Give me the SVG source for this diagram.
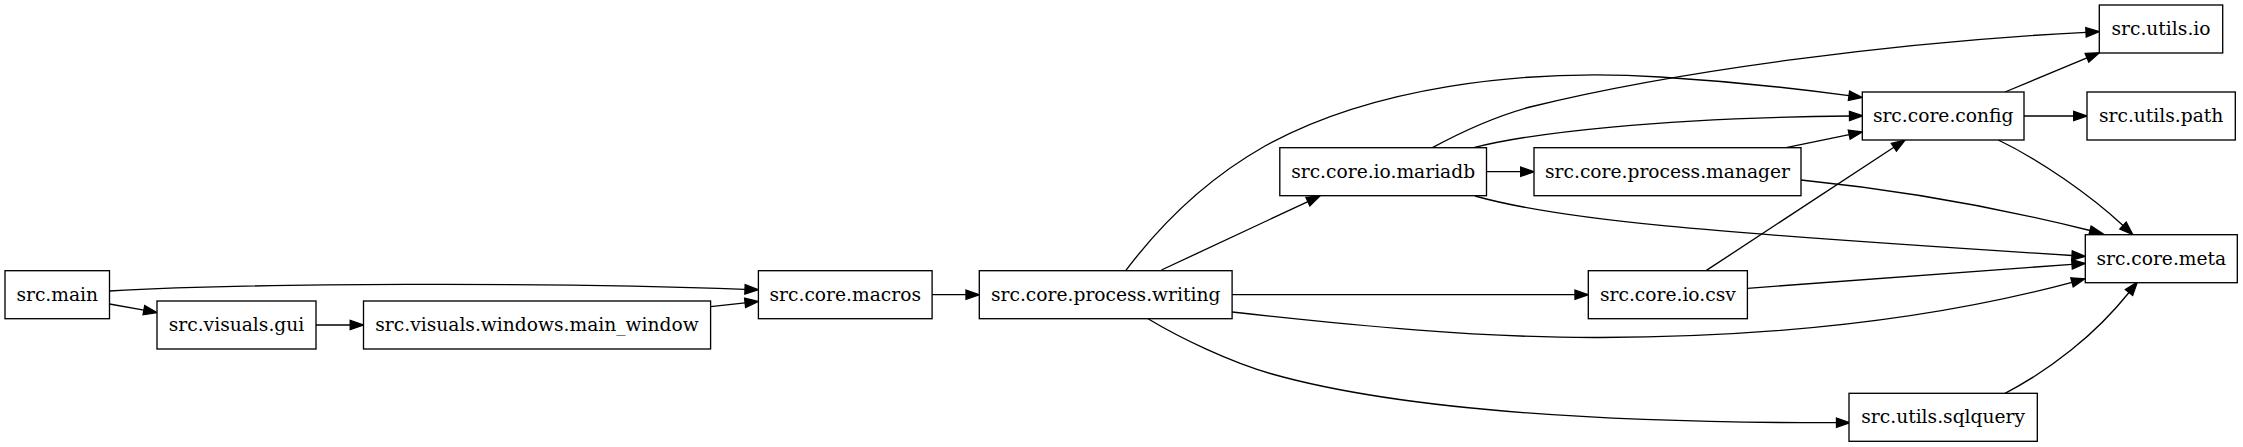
<svg xmlns="http://www.w3.org/2000/svg" width="2243" height="447" viewBox="0 0 2243 447">
<style>
.n rect{fill:#fff;stroke:#000;stroke-width:1.33}
.n text{font-family:"DejaVu Serif","Liberation Serif",serif;font-size:18.67px;text-anchor:middle;fill:#000}
.e path{fill:none;stroke:#000;stroke-width:1.33;marker-end:url(#ah)}
</style>
<defs>
<marker id="ah" markerUnits="userSpaceOnUse" viewBox="0 0 14 10" markerWidth="14" markerHeight="10" refX="0" refY="5" orient="auto" overflow="visible">
<path d="M0,0.33 L13.33,5 L0,9.67 Z" fill="#000" stroke="#000" stroke-width="1.33"/>
</marker>
</defs>
<rect width="2243" height="447" fill="#fff"/>
<g id="connectors" class="e">
<path d="M109.5,291 C250,283 550,282 745,289.3"/>
<path d="M109.5,304 L143.9,310.2"/>
<path d="M316,325 L350.2,325"/>
<path d="M710.6,306.6 L745.1,302.9"/>
<path d="M932.1,294.7 L966,294.7"/>
<path d="M1161.5,270 L1307.9,201.6"/>
<path d="M1125.7,270.7 C1160,225 1205,180 1265,146 C1370,88 1520,68 1660,77 C1740,82 1800,89 1849,95.7"/>
<path d="M1232.1,294.7 L1575,294.7"/>
<path d="M1232.1,312 C1350,325 1480,338 1600,337.5 C1800,337 1950,315 2072,282.3"/>
<path d="M1148,318.7 C1180,338 1230,362 1272,374 C1400,410 1600,423 1836.5,422.7"/>
<path d="M1432.4,147.7 C1465,130 1497,116 1530,107 C1680,70 1900,42 2086,32.3"/>
<path d="M1473.7,147.7 C1530,133 1660,118 1849.5,116"/>
<path d="M1486.5,171.7 L1520.7,171.7"/>
<path d="M1475,196 C1560,220 1700,232 2072,255.5"/>
<path d="M1786,147.7 L1849.2,134.7"/>
<path d="M1801,180 C1900,190 2000,208 2090,230.5"/>
<path d="M1706.4,270.4 L1893.9,147.3"/>
<path d="M1747.4,288.3 L2072,264.3"/>
<path d="M2005,92 L2087,57.8"/>
<path d="M2024,116 L2073.7,116"/>
<path d="M1998.3,140 C2040,160 2090,195 2123,225.5"/>
<path d="M2005,393.3 C2050,370 2095,335 2129,292.5"/>
</g>
<g id="src.main" class="n"><rect x="5" y="270.7" width="104.5" height="48"/><text x="57.25" y="300.7">src.main</text></g>
<g id="src.visuals.gui" class="n"><rect x="157" y="301" width="159" height="48"/><text x="236.5" y="331">src.visuals.gui</text></g>
<g id="src.visuals.windows.main_window" class="n"><rect x="363.5" y="301" width="347.1" height="48"/><text x="537" y="331">src.visuals.windows.main_window</text></g>
<g id="src.core.macros" class="n"><rect x="758.4" y="270.7" width="173.7" height="48"/><text x="845.25" y="300.7">src.core.macros</text></g>
<g id="src.core.process.writing" class="n"><rect x="979.3" y="270.7" width="252.8" height="48"/><text x="1105.7" y="300.7">src.core.process.writing</text></g>
<g id="src.core.io.mariadb" class="n"><rect x="1279.8" y="147.7" width="206.7" height="48"/><text x="1383.15" y="177.7">src.core.io.mariadb</text></g>
<g id="src.core.process.manager" class="n"><rect x="1534" y="147.7" width="267" height="48"/><text x="1667.5" y="177.7">src.core.process.manager</text></g>
<g id="src.core.io.csv" class="n"><rect x="1588.3" y="270.7" width="159.1" height="48"/><text x="1667.85" y="300.7">src.core.io.csv</text></g>
<g id="src.core.config" class="n"><rect x="1862.3" y="92" width="161.7" height="48"/><text x="1943.15" y="122">src.core.config</text></g>
<g id="src.utils.io" class="n"><rect x="2099.3" y="5" width="123.4" height="48"/><text x="2161" y="35">src.utils.io</text></g>
<g id="src.utils.path" class="n"><rect x="2087" y="92" width="148.3" height="48"/><text x="2161.15" y="122">src.utils.path</text></g>
<g id="src.core.meta" class="n"><rect x="2085.3" y="234.7" width="152" height="48"/><text x="2161.3" y="264.7">src.core.meta</text></g>
<g id="src.utils.sqlquery" class="n"><rect x="1849" y="393.3" width="188.3" height="48"/><text x="1943.15" y="423.3">src.utils.sqlquery</text></g>
</svg>
